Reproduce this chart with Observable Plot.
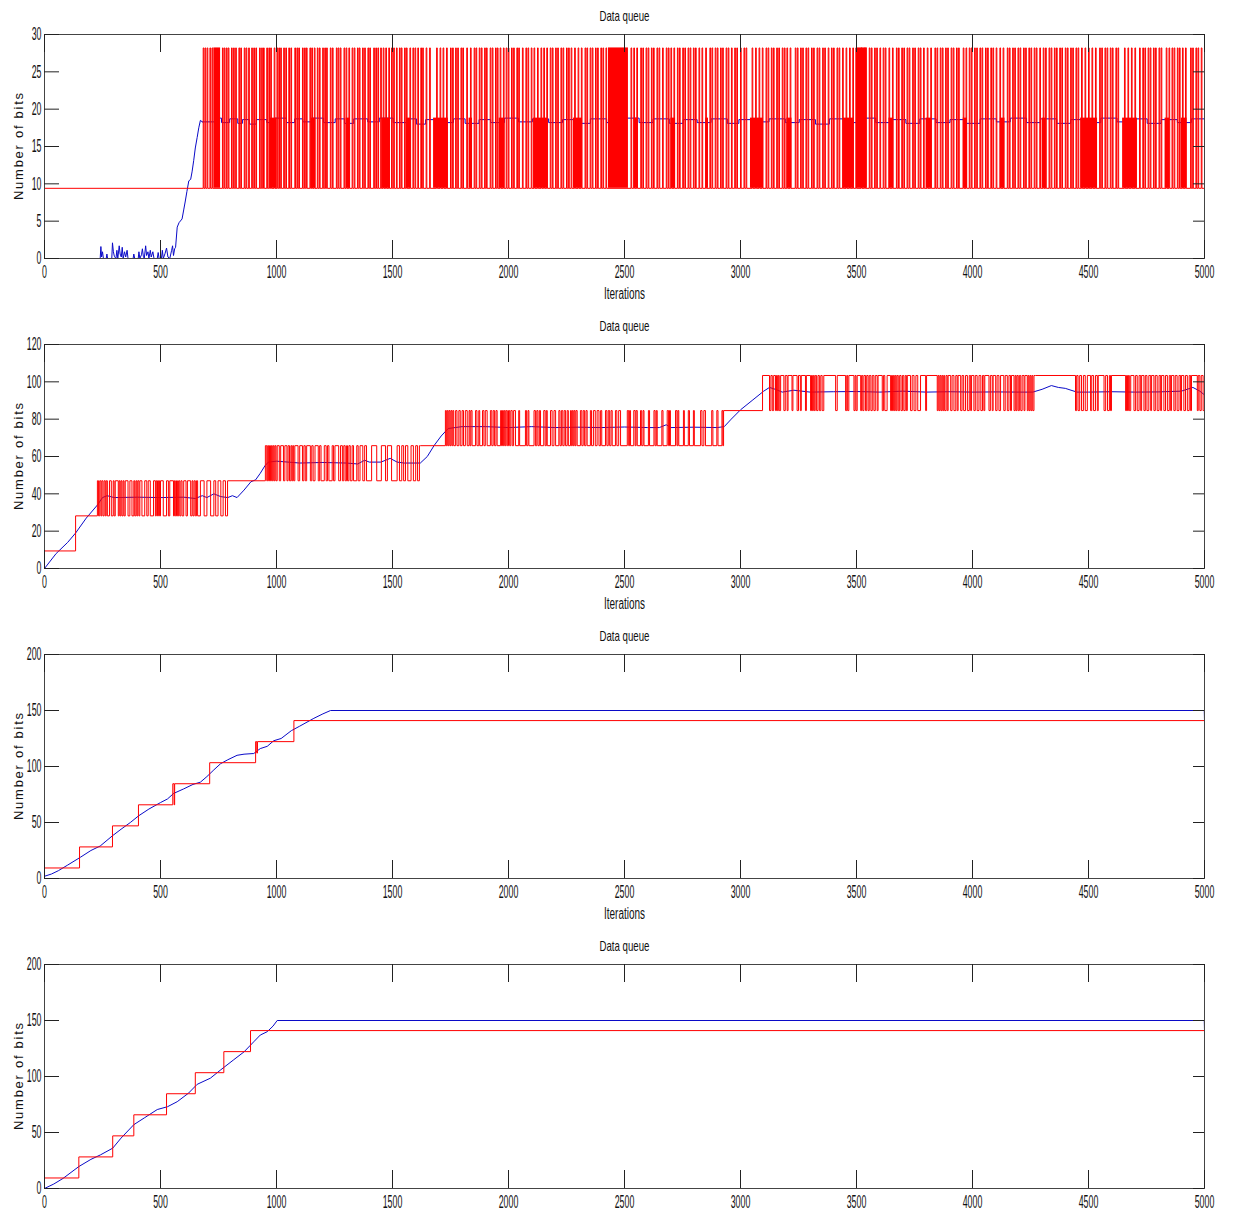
<!DOCTYPE html>
<html><head><meta charset="utf-8">
<script src="https://cdn.jsdelivr.net/npm/d3@7"></script>
<script src="https://cdn.jsdelivr.net/npm/@observablehq/plot@0.6"></script>
<style>
body{margin:0;background:#fff;}
#charts svg{display:block;}
</style></head><body><div id="charts"></div>
<script>
// ---------- tick labels ----------
const xTicks = [0, 500, 1000, 1500, 2000, 2500, 3000, 3500, 4000, 4500, 5000];
const yTicks1 = [0, 5, 10, 15, 20, 25, 30];
const yTicks2 = [0, 20, 40, 60, 80, 100, 120];
const yTicks34 = [0, 50, 100, 150, 200];

// ---------- panel 1 ----------
const q1Levels = [9.4, 18.8, 28.2];
const q1RedEnd = [5000, 4.8];
const q1Spikes = [684, 692, 701, 713, 722, 767, 775, 784, 792, 806, 815, 824, 838, 846, 861, 869, 880, 893, 902, 911, 927, 936, 944, 958, 967, 975, 990, 1002,
 1010, 1018, 1031, 1040, 1053, 1062, 1079, 1088, 1096, 1112, 1121, 1129, 1144, 1152, 1163, 1176, 1185, 1199, 1208, 1216, 1232, 1241, 1258, 1266, 1275, 1291, 1300, 1312,
 1326, 1335, 1349, 1357, 1371, 1380, 1394, 1402, 1419, 1428, 1437, 1449, 1460, 1471, 1484, 1496, 1505, 1517, 1530, 1538, 1552, 1560, 1575, 1588, 1597, 1609, 1622, 1630, 1645, 1660,
 1690, 1705, 1718, 1733, 1750, 1759, 1772, 1781, 1795, 1803, 1820, 1836, 1852, 1860, 1874, 1883, 1897, 1905, 1921, 1930, 1944, 1952, 1964, 1978, 1990, 1999, 2013, 2022, 2036, 2044, 2060, 2075, 2084, 2098,
 2110, 2125, 2140, 2152, 2165, 2180, 2189, 2203, 2212, 2226, 2235, 2250, 2259, 2270, 2285, 2300, 2314, 2330, 2338, 2352, 2361, 2375, 2384, 2398, 2407, 2420, 2528, 2540, 2553, 2570, 2579, 2593, 2602, 2616, 2625, 2640, 2649, 2664, 2680, 2689,
 2700, 2713, 2728, 2737, 2751, 2760, 2774, 2783, 2797, 2806, 2821, 2834, 2850, 2868, 2877, 2891, 2900, 2914, 2923, 2938, 2947, 2961, 2975, 2984, 3000, 3015, 3024, 3050, 3065, 3080, 3094,
 3110, 3119, 3133, 3142, 3156, 3165, 3180, 3189, 3200, 3214, 3236, 3245, 3259, 3268, 3282, 3291, 3306, 3315, 3330, 3339, 3354, 3363, 3378, 3392, 3401, 3416, 3425, 3440, 3455, 3470, 3484, 3497,
 3520, 3535, 3555, 3564, 3578, 3587, 3601, 3615, 3624, 3640, 3655, 3672, 3681, 3695, 3704, 3718, 3727, 3742, 3751, 3766, 3775, 3789, 3805, 3820, 3838, 3847, 3861, 3870, 3884, 3893, 3908, 3917, 3931, 3940,
 3960, 3972, 3986, 3995, 4009, 4018, 4032, 4041, 4056, 4065, 4079, 4088, 4102, 4118, 4132, 4150, 4159, 4173, 4182, 4196, 4205, 4220, 4229, 4243, 4252, 4266, 4275, 4290, 4305, 4315,
 4330, 4339, 4353, 4362, 4376, 4385, 4400, 4409, 4423, 4432, 4446, 4455, 4470, 4485, 4500, 4515, 4530, 4548, 4557, 4571, 4580, 4594, 4603, 4618, 4627, 4655, 4670, 4685, 4700,
 4720, 4734, 4743, 4757, 4766, 4780, 4789, 4804, 4813, 4835, 4847, 4860, 4869, 4883, 4892, 4905, 4918, 4940, 4949, 4963, 4972, 4986];
const q1SpikeWidth = 3;
// dense (saturated) stretches: [start, end, top level]
const q1Blocks = [[730, 759, 28.2], [974, 1003, 18.8], [1150, 1170, 18.8], [1300, 1318, 18.8], [1455, 1490, 18.8], [1560, 1580, 18.8],
 [1677, 1741, 18.8], [1830, 1845, 18.8], [1960, 1985, 18.8], [2108, 2168, 18.8], [2280, 2319, 18.8], [2431, 2517, 28.2], [2540, 2560, 18.8],
 [2700, 2720, 18.8], [2850, 2862, 18.8], [3043, 3099, 18.8], [3200, 3222, 18.8], [3444, 3487, 18.8], [3504, 3547, 28.2], [3640, 3660, 18.8],
 [3800, 3825, 18.8], [3960, 3978, 18.8], [4120, 4140, 18.8], [4300, 4318, 18.8], [4466, 4539, 18.8], [4647, 4711, 18.8], [4830, 4850, 18.8], [4900, 4925, 18.8]];
const q1BlueRise = [[0,0],[240,0],[243,1.6],[246,0.2],[250,0.9],[254,0],[266,0],[269,0.6],[272,0],[290,0],[293,2.1],[297,0.9],[301,0.3],[308,0],[312,1.1],[316,0],
 [322,1.7],[326,0.6],[331,0.2],[335,1.5],[339,0],[345,0.9],[350,0.2],[356,1.1],[360,0],[382,0],[385,0.6],[389,0],[404,0],[407,0.9],[411,0],[418,0.5],[422,1.3],
 [426,0.3],[430,0],[436,1.7],[440,0.4],[446,0.9],[450,0],[456,1.1],[460,0.2],[467,0.9],[472,0],[486,0],[490,0.8],[494,0],[504,0],[508,1.1],[512,0],[520,0.7],
 [526,1.4],[532,0.2],[540,0],[548,1.1],[552,1.7],[556,0.4],[561,1.3],[565,1.5],[572,4.2],[580,4.8],[593,5.3],[600,6.5],[607,7.7],[614,9],[622,10.4],[630,10.6],
 [636,11.6],[643,13.1],[650,14.8],[658,16.2],[665,17.5],[672,18.5],[680,18.3]];
const q1BlueFlat = [[680,18.3],[733,18.8],[763,18.2],[798,18.7],[833,18.1],[853,18.6],[883,18.0],[913,18.6],[958,18.2],[993,18.8],[1043,18.2],[1078,18.7],
 [1113,18.3],[1153,18.8],[1203,18.2],[1253,18.7],[1293,18.1],[1333,18.7],[1393,18.3],[1443,18.8],[1503,18.2],[1563,18.7],[1603,18.0],[1643,18.6],[1703,18.2],
 [1763,18.7],[1813,18.1],[1873,18.6],[1923,18.2],[1983,18.8],[2043,18.3],[2103,18.7],[2173,18.2],[2233,18.6],[2293,18.1],[2353,18.7],[2423,18.2],[2483,18.8],
 [2563,18.2],[2623,18.7],[2693,18.1],[2753,18.6],[2813,18.2],[2873,18.7],[2943,18.1],[2993,18.6],[3063,18.3],[3123,18.7],[3193,18.2],[3253,18.6],[3323,18.0],
 [3383,18.7],[3453,18.2],[3513,18.8],[3583,18.2],[3643,18.6],[3713,18.1],[3773,18.7],[3843,18.2],[3903,18.6],[3973,18.1],[4033,18.7],[4103,18.3],[4163,18.8],
 [4233,18.2],[4293,18.7],[4363,18.1],[4423,18.6],[4493,18.2],[4553,18.8],[4623,18.3],[4683,18.7],[4753,18.1],[4813,18.6],[4883,18.2],[4943,18.7],[5000,9.4]];

// ---------- panel 2 ----------
const q2RedSteps = [[0, 9.4], [134, 28.2], [789, 47.0], [1621, 65.8], [2927, 84.6], [4272, 103.4], [5000, 41.8]];
const q2Band1 = [228, 233, 238, 243, 247, 252, 257, 262, 266, 271, 280, 288, 296, 300, 305, 318, 322, 326, 330, 334, 339, 343, 348, 360, 368, 377, 385, 389,
 394, 398, 402, 407, 411, 420, 432, 441, 447, 456, 470, 478, 482, 487, 491, 496, 500, 512, 526, 534, 540, 556, 560, 564, 569, 573, 578, 583, 588, 593, 600,
 610, 616, 630, 636, 640, 645, 650, 655, 660, 672, 688, 700, 716, 730, 738, 748, 760, 770, 780];
const q2Band2 = [952, 958, 962, 966, 970, 974, 978, 982, 986, 990, 994, 998, 1003, 1012, 1018, 1030, 1036, 1045, 1050, 1056, 1062, 1066, 1070, 1074, 1079, 1093,
 1100, 1112, 1118, 1124, 1130, 1146, 1152, 1158, 1166, 1180, 1186, 1192, 1206, 1214, 1220, 1226, 1240, 1246, 1252, 1268, 1276, 1284, 1290, 1296, 1302, 1306,
 1312, 1318, 1326, 1332, 1346, 1352, 1360, 1372, 1380, 1388, 1410, 1432, 1452, 1470, 1478, 1496, 1520, 1530, 1540, 1548, 1556, 1566, 1580, 1590, 1600, 1608, 1616];
const q2Band3 = [1728, 1732, 1736, 1740, 1744, 1748, 1752, 1756, 1760, 1764, 1772, 1778, 1786, 1792, 1800, 1806, 1814, 1822, 1830, 1834, 1838, 1843, 1858, 1864,
 1872, 1876, 1888, 1894, 1900, 1908, 1922, 1928, 1934, 1940, 1946, 1951, 1966, 1970, 1974, 1978, 1982, 1986, 1990, 1995, 2000, 2005, 2010, 2016, 2022, 2030,
 2044, 2048, 2073, 2078, 2084, 2088, 2110, 2116, 2122, 2127, 2133, 2138, 2152, 2158, 2163, 2167, 2181, 2188, 2196, 2203, 2217, 2222, 2228, 2234, 2240, 2246,
 2253, 2258, 2267, 2271, 2275, 2279, 2283, 2287, 2291, 2296, 2310, 2316, 2322, 2328, 2334, 2339, 2353, 2358, 2366, 2374, 2382, 2390, 2397, 2402, 2418, 2424,
 2430, 2436, 2442, 2447, 2461, 2467, 2475, 2483, 2512, 2518, 2522, 2526, 2540, 2546, 2550, 2555, 2569, 2574, 2580, 2584, 2603, 2608, 2627, 2632, 2637, 2641,
 2661, 2666, 2684, 2690, 2694, 2698, 2720, 2726, 2730, 2734, 2754, 2758, 2775, 2780, 2797, 2801, 2828, 2834, 2842, 2849, 2876, 2881, 2898, 2903, 2920, 2924];
const q2Band4a = [3095, 3125, 3131, 3137, 3143, 3151, 3155, 3159, 3163, 3167, 3173, 3187, 3193, 3201, 3205, 3222, 3226, 3244, 3250, 3258, 3262, 3280, 3284,
 3302, 3306, 3310, 3314, 3318, 3322, 3328, 3334, 3340, 3346, 3352, 3359, 3410, 3417, 3453, 3458, 3462, 3467, 3489, 3494, 3498, 3503, 3518, 3522, 3527, 3532,
 3539, 3544, 3550, 3555, 3562, 3568, 3575, 3581, 3589, 3593, 3611, 3616, 3622, 3632, 3647, 3651, 3655, 3659, 3663, 3667, 3671, 3675, 3680, 3686, 3692, 3698,
 3704, 3710, 3715, 3719, 3733, 3740, 3748, 3756, 3764, 3776, 3798, 3802, 3848, 3852, 3856, 3860, 3864, 3868, 3872, 3876, 3880, 3886, 3891, 3895, 3906, 3912,
 3920, 3928, 3934, 3938, 3949, 3955, 3962, 3970, 3978, 3986, 3992, 3996, 4006, 4012, 4020, 4028, 4036, 4043, 4049, 4053, 4071, 4077, 4085, 4089, 4100, 4106,
 4114, 4121, 4135, 4141, 4150, 4157, 4164, 4168, 4179, 4184, 4188, 4192, 4197, 4202, 4208, 4214, 4222, 4226, 4236, 4240, 4244, 4248, 4252, 4256, 4260, 4265];
const q2Band4b = [4444, 4449, 4455, 4462, 4470, 4478, 4486, 4495, 4509, 4514, 4522, 4530, 4538, 4542, 4567, 4574, 4582, 4590, 4595, 4599, 4660, 4664, 4668,
 4672, 4676, 4682, 4696, 4703, 4710, 4718, 4725, 4729, 4739, 4745, 4752, 4760, 4768, 4772, 4782, 4788, 4796, 4804, 4811, 4815, 4825, 4832, 4840, 4848, 4854,
 4858, 4868, 4874, 4882, 4890, 4897, 4901, 4911, 4918, 4926, 4934, 4940, 4944, 4969, 4973, 4980, 4986, 4994];
const q2Blue = [[0,0],[50,8],[100,14],[134,19],[180,27],[228,34],[250,38],[270,39],[300,38],[400,38.2],[500,38],[600,38.2],[650,37.5],[680,39],[700,38],[730,40],
 [760,38.5],[790,38],[810,39],[830,38],[860,42],[890,46.5],[910,47.5],[930,51],[950,55],[965,57],[1000,57.5],[1100,56.5],[1200,56.8],[1300,56.5],[1350,56],
 [1380,58],[1400,57],[1450,57],[1490,59],[1520,57],[1550,56.5],[1620,56.5],[1650,60],[1680,66],[1710,71],[1740,75],[1800,76],[1900,76],[2000,75.5],[2100,76],
 [2200,75.5],[2300,75.7],[2400,75.5],[2500,75.8],[2600,75.5],[2650,75.5],[2680,77],[2700,75.5],[2800,75.7],[2900,75.5],[2930,76],[2960,80],[3000,85],[3050,90],
 [3100,95],[3125,97],[3150,96],[3180,94.5],[3230,95.5],[3300,94.5],[3400,94.7],[3500,94.8],[3600,94.5],[3700,95],[3800,94.5],[3900,94.7],[4000,94.5],[4100,94.6],
 [4200,94.5],[4260,94.5],[4300,96],[4340,98],[4370,97],[4400,96.5],[4450,94.5],[4500,94.5],[4600,94.7],[4700,94.5],[4800,94.6],[4900,95],[4950,97],[4980,95],[5000,93]];

// ---------- panel 3 ----------
const q3Red = [[0, 9.4], [151, 28.2], [293, 47.0], [405, 65.8], [553, 84.6], [559, 65.8], [561, 84.6], [712, 103.4], [910, 122.2], [915, 112], [918, 122.2],
 [1075, 141.0], [5000, 71.4]];
const q3Blue = [[0,2],[30,4],[60,7],[100,12],[155,19],[200,25],[240,29],[292,38],[330,44],[370,50],[406,56],[450,62],[500,67.8],[530,71],[557,76],[600,80],
 [640,84],[672,86],[700,91],[730,97],[759,102.5],[790,106],[830,110],[860,111],[902,111.6],[930,116],[960,118],[988,123],[1020,125],[1064,132],[1100,136],
 [1161,143],[1200,147],[1233,150],[4999,150],[5000,141]];

// ---------- panel 4 ----------
const q4Red = [[0, 9.4], [148, 28.2], [294, 47.0], [385, 65.8], [526, 84.6], [650, 103.4], [773, 122.2], [888, 141.0], [5000, 71.4]];
const q4Blue = [[0,0],[40,4],[80,9],[148,19.6],[200,26],[241,30],[294,36],[330,45],[385,57],[430,63],[486,70.5],[530,73],[572,77.5],[620,85],[658,93],
 [715,98.5],[760,106],[816,115],[860,122],[902,131],[930,137],[960,140],[985,145],[1003,150],[4999,150],[5000,141]];

// ---------- build tables ----------
const [lo1, mid1, hi1] = q1Levels;
const q1Red = [[0, lo1]];
for (const s of q1Spikes) { q1Red.push([s, hi1], [s + q1SpikeWidth, lo1]); }
q1Red.push(q1RedEnd);

function band(toggles, first, second) { return toggles.map((x, i) => [x, i % 2 === 0 ? first : second]); }
const q2Red = [...q2RedSteps,
  ...band(q2Band1, 47.0, 28.2), ...band(q2Band2, 65.8, 47.0), ...band(q2Band3, 84.6, 65.8),
  ...band(q2Band4a, 103.4, 84.6), ...band(q2Band4b, 84.6, 103.4)].sort((a, b) => a[0] - b[0]);

const RED = "#ff0000", BLUE = "#0a0ac8";
const W = 1233, ML = 44, MR = 29, MT = 34, PH = 224;

function panel({height, ymax, yTicks, red, blueLines, blocks, base, xlabel}) {
  const marks = [
    Plot.axisX({ticks: xTicks, tickSize: 0, tickPadding: 7, label: null, tickFormat: d => String(d), fill: "#111"}),
    Plot.axisY({ticks: yTicks, tickSize: 0, tickPadding: 3, label: null, tickFormat: d => String(d), fill: "#111"}),
  ];
  for (const b of blueLines) marks.push(Plot.line(b.data, {x: d => d[0], y: d => d[1], stroke: BLUE, strokeWidth: 1, curve: b.curve}));
  if (blocks) marks.push(Plot.rect(blocks, {x1: d => d[0], x2: d => d[1], y1: base, y2: d => d[2], fill: RED}));
  marks.push(Plot.line(red, {x: d => d[0], y: d => d[1], stroke: RED, strokeWidth: 1, curve: "step-after"}));
  marks.push(
    Plot.frame({stroke: "#444", strokeWidth: 1}),
    Plot.ruleX(xTicks, {stroke: "#222", insetTop: PH - 18}),
    Plot.ruleX(xTicks, {stroke: "#222", insetBottom: PH - 18}),
    Plot.ruleY(yTicks, {stroke: "#222", insetRight: (W - ML - MR) - 15}),
    Plot.ruleY(yTicks, {stroke: "#222", insetLeft: (W - ML - MR) - 11}),
    Plot.text(["Data queue"], {frameAnchor: "top", lineAnchor: "middle", textAnchor: "middle", dy: -18.5, fontSize: 15, fill: "#111"}),
    Plot.text(["Number of bits"], {frameAnchor: "left", lineAnchor: "middle", textAnchor: "middle", dx: -25.5, rotate: -90, fontSize: 13, fill: "#111"})
  );
  if (xlabel) marks.push(Plot.text(["Iterations"], {frameAnchor: "bottom", lineAnchor: "middle", textAnchor: "middle", dy: 35.5, fontSize: 16, fill: "#111"}));
  const svg = Plot.plot({
    width: W, height, marginLeft: ML, marginRight: MR, marginTop: MT, marginBottom: height - MT - PH,
    x: {domain: [0, 5000]}, y: {domain: [0, ymax]},
    style: {fontFamily: "'Liberation Sans', Arial, sans-serif", fontSize: "18px", background: "#fff", overflow: "visible"},
    marks
  });
  d3.select(svg).selectAll("text").each(function () {
    const t = this.textContent;
    const s = d3.select(this);
    if (/^\d+$/.test(t)) s.attr("textLength", t.length * 4.9).attr("lengthAdjust", "spacingAndGlyphs");
    else if (t === "Data queue") s.attr("textLength", 50).attr("lengthAdjust", "spacingAndGlyphs");
    else if (t === "Iterations") s.attr("textLength", 41).attr("lengthAdjust", "spacingAndGlyphs");
    else if (t === "Number of bits") s.attr("textLength", 107).attr("lengthAdjust", "spacing");
  });
  return svg;
}

const root = document.getElementById("charts");
root.append(panel({height: 310, ymax: 30, yTicks: yTicks1, red: q1Red, blocks: q1Blocks, base: lo1,
  blueLines: [{data: q1BlueRise, curve: "linear"}, {data: q1BlueFlat, curve: "step-after"}], xlabel: true}));
root.append(panel({height: 310, ymax: 120, yTicks: yTicks2, red: q2Red, blueLines: [{data: q2Blue, curve: "linear"}], xlabel: true}));
root.append(panel({height: 310, ymax: 200, yTicks: yTicks34, red: q3Red, blueLines: [{data: q3Blue, curve: "linear"}], xlabel: true}));
root.append(panel({height: 286, ymax: 200, yTicks: yTicks34, red: q4Red, blueLines: [{data: q4Blue, curve: "linear"}], xlabel: false}));
</script></body></html>
